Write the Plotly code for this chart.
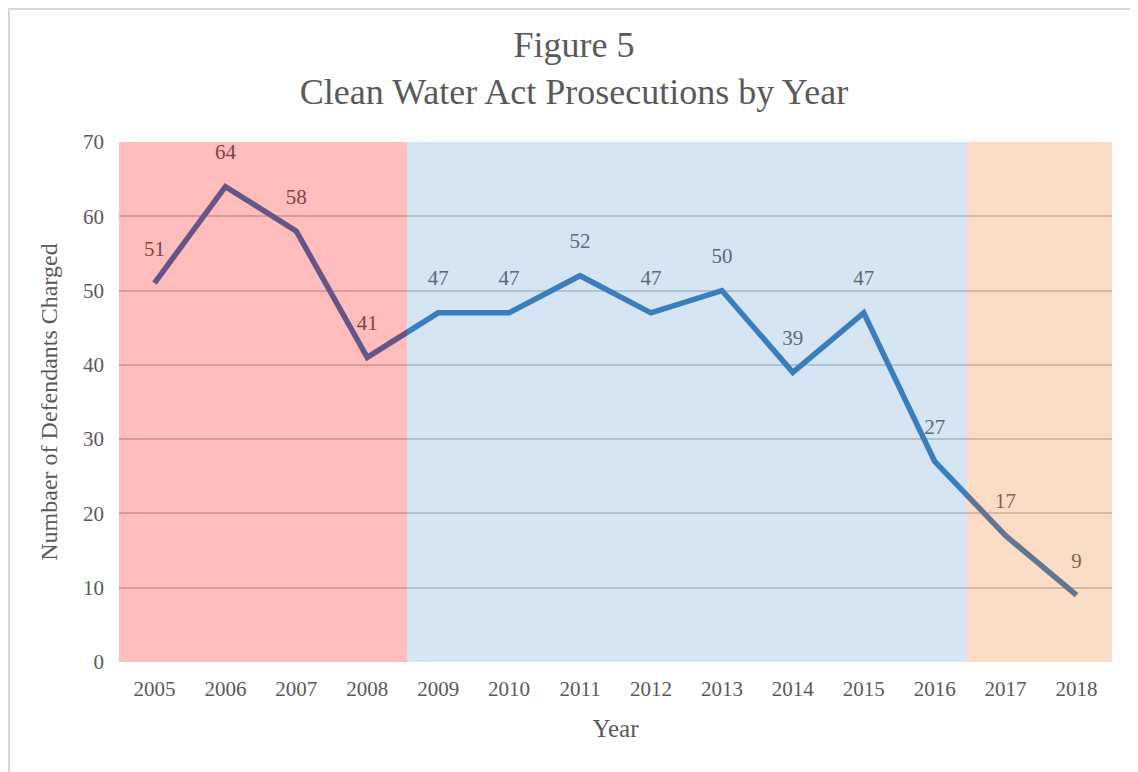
import plotly.graph_objects as go

years = ["2005", "2006", "2007", "2008", "2009", "2010", "2011", "2012",
         "2013", "2014", "2015", "2016", "2017", "2018"]
defendants = [51, 64, 58, 41, 47, 47, 52, 47, 50, 39, 47, 27, 17, 9]
y_ticks = [0, 10, 20, 30, 40, 50, 60, 70]

OFF = 8  # page body margin
W, H = 1130, 764
L, R, T, B = 119 - OFF, 26, 142 - OFF, 110
pw, ph = W - L - R, H - T - B

FONT = "Liberation Serif"
GRAY = "#595959"

x_idx = list(range(len(years)))

fig = go.Figure()
fig.add_trace(go.Scatter(
    x=x_idx, y=defendants, mode="lines",
    line=dict(color="#2E75B6", width=5.5),
    hoverinfo="skip", showlegend=False,
))
fig.add_trace(go.Scatter(
    x=x_idx, y=defendants, mode="markers+text",
    marker=dict(size=34, color="rgba(0,0,0,0)"),
    text=[str(v) for v in defendants], textposition="top center",
    textfont=dict(family=FONT, size=21, color=GRAY),
    hoverinfo="skip", showlegend=False,
))

# era shading drawn above the line (semi-transparent overlays)
eras = [(-0.5, 3.56, "rgb(255,0,0)", 0.26),
        (3.56, 11.455, "rgb(91,155,213)", 0.26),
        (11.455, 13.5, "rgb(237,125,49)", 0.27)]
for x0, x1, c, op in eras:
    fig.add_shape(type="rect", xref="x", yref="y", x0=x0, x1=x1, y0=0, y1=70,
                  fillcolor=c, opacity=op, line=dict(width=0), layer="above")

# outer chart border (figure pixel coords)
def fx(p):
    return (p - L) / pw
def fy(p):
    return (H - B - p) / ph
fig.add_shape(type="rect", xref="paper", yref="paper",
              x0=fx(1), x1=fx(1129), y0=fy(790), y1=fy(1),
              line=dict(color="#D9D9D9", width=2), fillcolor="rgba(0,0,0,0)",
              layer="below")

fig.update_layout(
    width=W, height=H,
    margin=dict(l=L, r=R, t=T, b=B),
    paper_bgcolor="white", plot_bgcolor="white",
    title=dict(text="Figure 5<br>Clean Water Act Prosecutions by Year",
               x=(574 - OFF - L) / pw, xref="paper", xanchor="center",
               y=(H - (57 - OFF)) / H, yanchor="middle",
               font=dict(family=FONT, size=36, color=GRAY)),
    font=dict(family=FONT, color=GRAY),
    xaxis=dict(
        range=[-0.5, len(years) - 0.5],
        tickvals=x_idx, ticktext=years,
        tickfont=dict(family=FONT, size=21, color=GRAY),
        ticklabelstandoff=12,
        showgrid=False, zeroline=False, showline=False, ticks="",
        title=dict(text="Year", font=dict(family=FONT, size=25, color=GRAY),
                   standoff=19),
    ),
    yaxis=dict(
        range=[0, 70], tickvals=y_ticks,
        tickfont=dict(family=FONT, size=21, color=GRAY),
        ticklabelstandoff=14,
        showgrid=True, gridcolor="#CFCFCF", gridwidth=2,
        zeroline=False, showline=False, ticks="", ticklen=0,
        title=dict(text="Numbaer of Defendants Charged",
                   font=dict(family=FONT, size=24, color=GRAY), standoff=18),
    ),
)

fig.write_html("out.html")
